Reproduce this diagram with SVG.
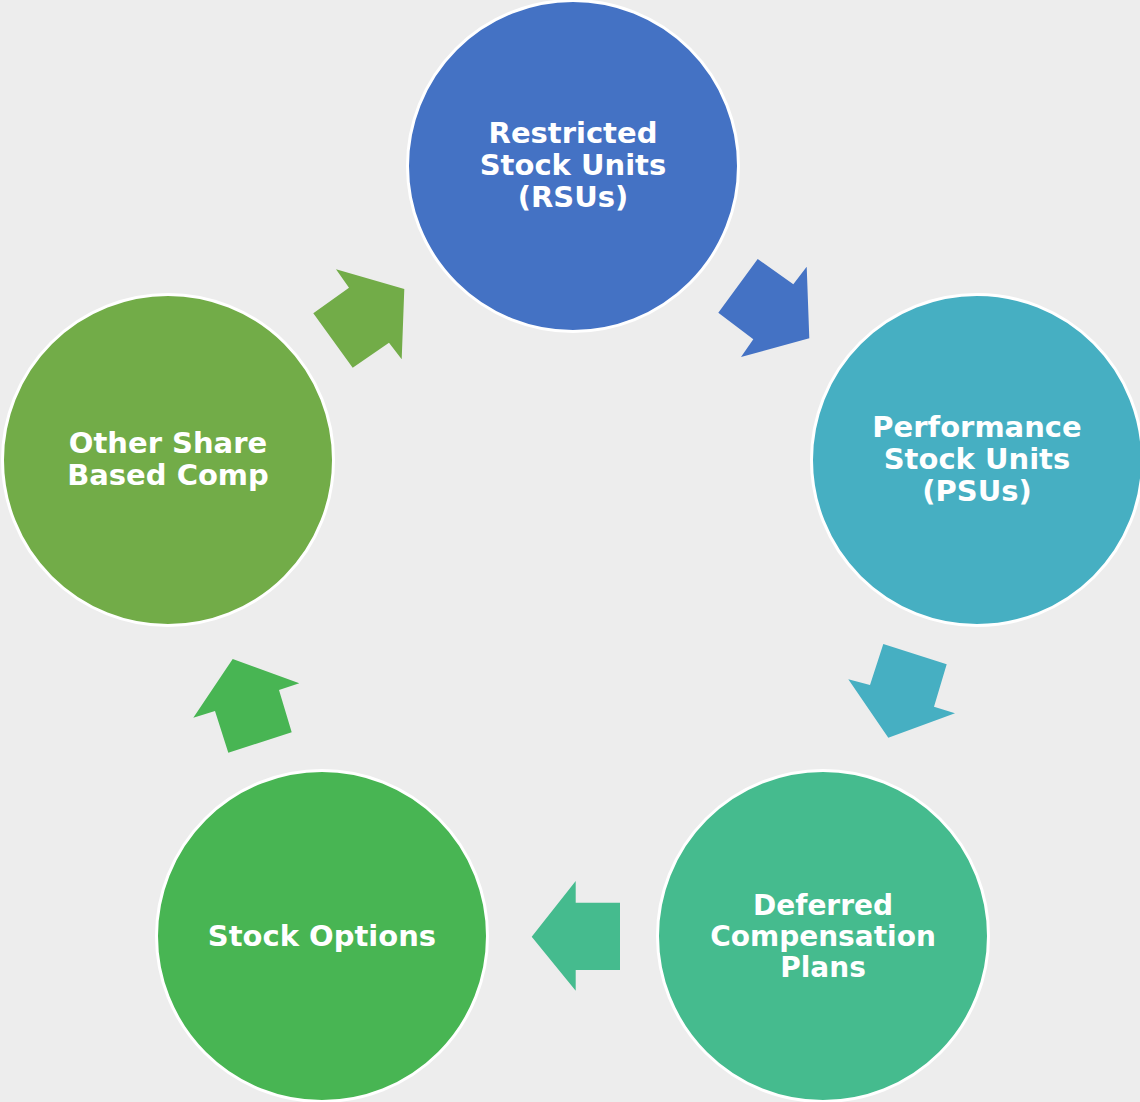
<svg xmlns="http://www.w3.org/2000/svg" width="1140" height="1102" viewBox="0 0 1140 1102">
<style>
.c{stroke:#fff;stroke-width:3}
.t{font-family:"DejaVu Sans",Verdana,sans-serif;font-weight:bold;font-size:29px;fill:#fff;text-anchor:middle}
.s{font-size:28px}
</style>
<rect width="1140" height="1102" fill="#EDEDED"/>
<g id="connectors">
<polygon fill="#4472C4" points="757.7,259 793.3,284.3 806.7,266.7 809.3,338.3 741,357 753.3,339.3 718.3,312.7"/>
<polygon fill="#46AFC2" points="883.3,644 946.7,664.3 934,706.7 955,713.3 888.3,737.7 848.3,679.3 870,685"/>
<polygon fill="#45BB8E" points="575.7,881 575.7,902.7 620,902.7 620,970 575.7,970 575.7,990.7 531.7,936.7"/>
<polygon fill="#48B553" points="232.7,659 299.3,683.3 279,690 291.7,732.3 228.3,752.7 215,711 193.3,717.7"/>
<polygon fill="#72AC48" points="336,269.3 404.3,289 401.7,359.3 389,342.7 352.7,367.7 313.3,313.3 349,287.7"/>
</g>
<g id="rsu">
<circle class="c" cx="573" cy="166" r="165.5" fill="#4472C4"/>
<text class="t" x="573" y="143">Restricted</text>
<text class="t" x="573" y="175">Stock Units</text>
<text class="t" x="573" y="207">(RSUs)</text>
</g>
<g id="psu">
<circle class="c" cx="977" cy="460" r="165.5" fill="#46AFC2"/>
<text class="t" x="977" y="437">Performance</text>
<text class="t" x="977" y="469">Stock Units</text>
<text class="t" x="977" y="501">(PSUs)</text>
</g>
<g id="deferred">
<circle class="c" cx="823" cy="936" r="165.5" fill="#45BB8E"/>
<text class="t s" x="823" y="915">Deferred</text>
<text class="t s" x="823" y="946">Compensation</text>
<text class="t s" x="823" y="977">Plans</text>
</g>
<g id="options">
<circle class="c" cx="322" cy="936" r="165.5" fill="#48B553"/>
<text class="t" x="322" y="946">Stock Options</text>
</g>
<g id="other">
<circle class="c" cx="168" cy="460" r="165.5" fill="#72AC48"/>
<text class="t" x="168" y="453">Other Share</text>
<text class="t" x="168" y="485">Based Comp</text>
</g>
</svg>
